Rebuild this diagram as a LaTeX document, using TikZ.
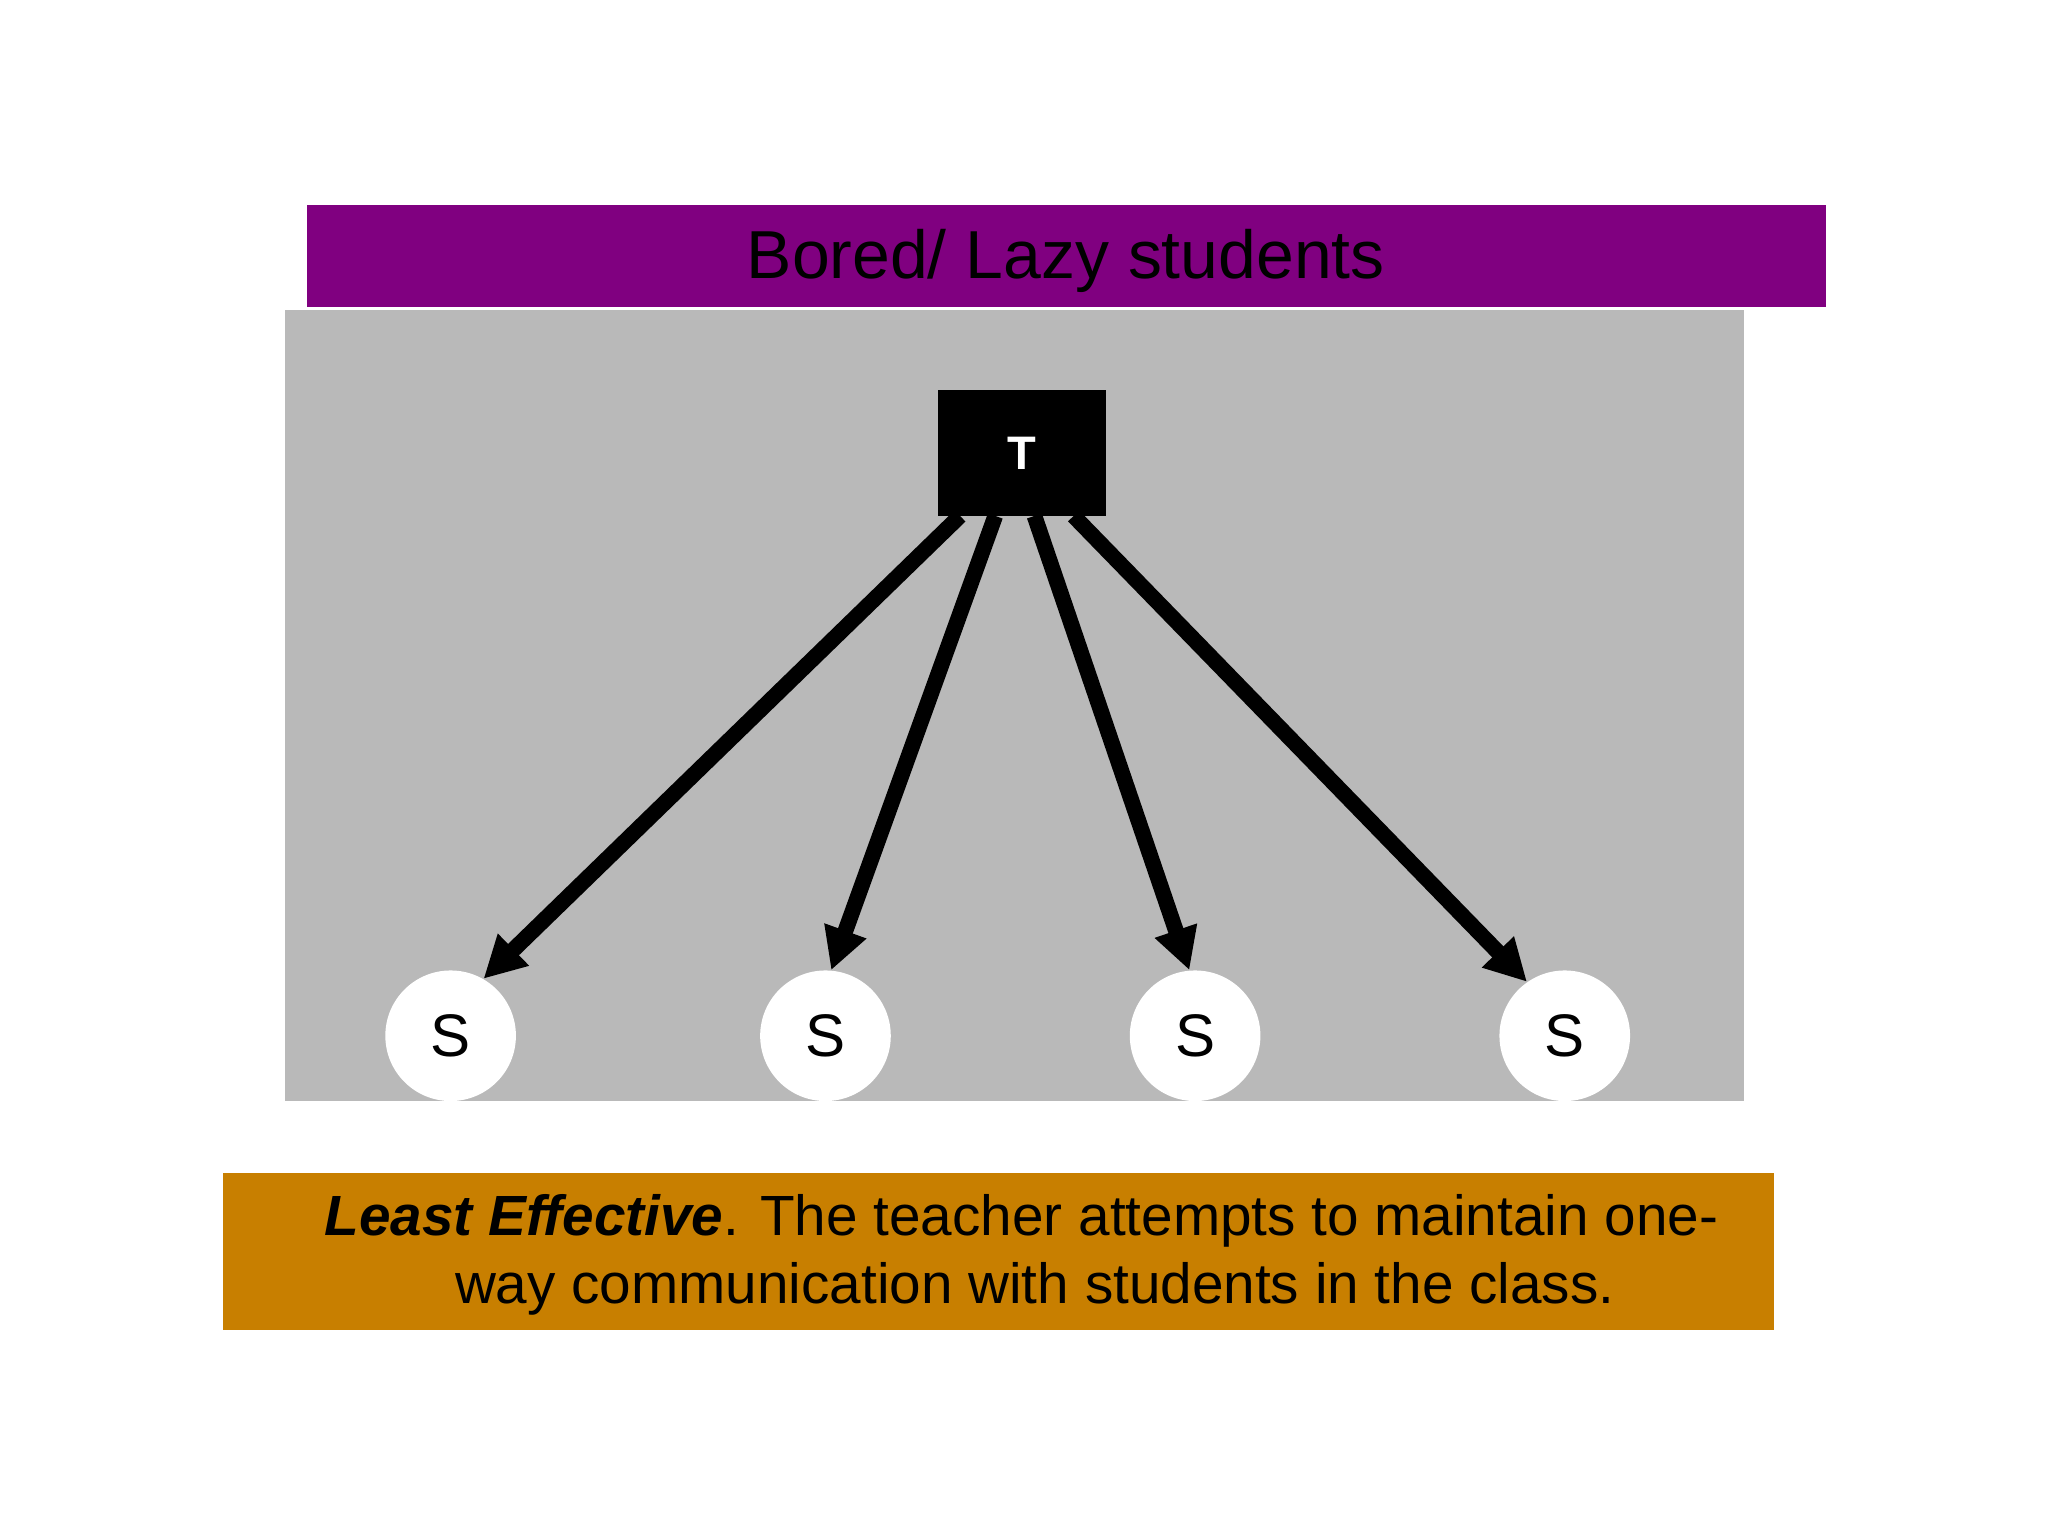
\documentclass[tikz,border=0pt]{standalone}
\usepackage{fontspec}
\setmainfont{Liberation Sans}
\usetikzlibrary{arrows.meta}
\definecolor{purp}{HTML}{800080}
\definecolor{ochre}{HTML}{C87F00}
\begin{document}
\begin{tikzpicture}[x=0.5pt,y=-0.5pt,
  stud/.style={circle,fill=white,minimum size=50pt,inner sep=0pt,font=\fontsize{23}{26}\selectfont},
  flow/.style={line width=6pt,-{Triangle[length=16pt,width=16pt]}}]
\useasboundingbox (0,0) rectangle (1568,1176);
\fill[gray!55] (218,237) rectangle (1335,843);
\fill[purp] (235,157) rectangle (1398,235);
\node[font=\fontsize{26}{30}\selectfont,inner sep=0pt] (title) at (816,200) {Bored/ Lazy students};
\node[fill=black,text=white,minimum width=64pt,minimum height=48.5pt,inner sep=0pt,anchor=north west,font=\bfseries\fontsize{18}{20}\selectfont] (T) at (718,298) {T};
\node[stud] (s1) at (345,793) {S};
\node[stud] (s2) at (632,793) {S};
\node[stud] (s3) at (915,793) {S};
\node[stud] (s4) at (1198,793) {S};
\coordinate (t1) at (735,395); \coordinate (t2) at (762,395);
\coordinate (t3) at (792,395); \coordinate (t4) at (822,395);
\draw[flow] (t1) -- (s1.60);
\draw[flow] (t2) -- (s2.85);
\draw[flow] (t3) -- (s3.95);
\draw[flow] (t4) -- (s4.125);
\node[fill=ochre,minimum width=594pt,minimum height=60pt,inner sep=0pt,anchor=north west] (box) at (170,898) {};
\node[align=left,anchor=north west,font=\fontsize{21.7}{26}\selectfont,inner sep=0pt] (cap) at (248,914)
 {\textbf{\textit{Least Effective}}. The teacher attempts to maintain one-\\
 \hspace*{50pt}way communication with students in the class.};
\end{tikzpicture}
\end{document}
